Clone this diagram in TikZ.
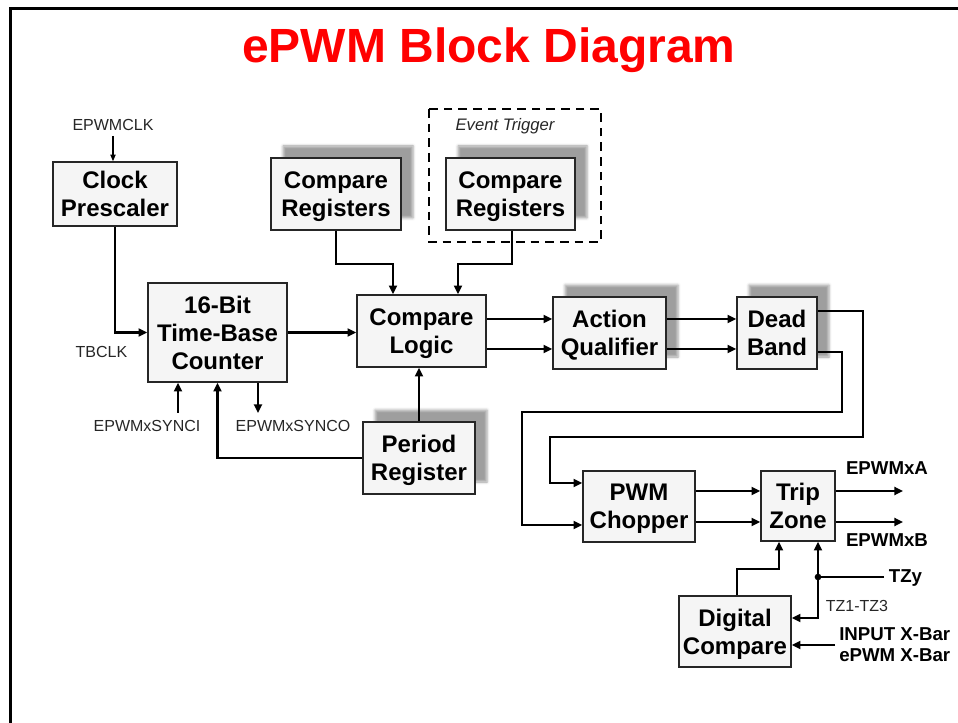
\documentclass[tikz,border=0pt]{standalone}
\usepackage{fontspec}
\setmainfont{Liberation Sans}
\usepackage{xcolor}
\usepackage{tikz}
\usetikzlibrary{calc, arrows.meta, shadows.blur}

\tikzset{
    blk/.style={draw=black!85, line width=1.2pt, fill=black!4, align=center, inner sep=0pt,
        text depth=0pt, font=\fontsize{18}{21}\selectfont\bfseries},
    shd/.style={blur shadow={shadow xshift=9pt, shadow yshift=9pt, shadow blur radius=2pt, shadow opacity=38}},
    wire/.style={line width=2.1pt},
    lbl/.style={font=\fontsize{12}{14}\selectfont, text=black!85, anchor=base},
    pin/.style={font=\fontsize{14}{16}\selectfont\bfseries, anchor=base},
}

\begin{document}
\begin{tikzpicture}[x=0.75pt, y=-0.75pt, >={Triangle[length=6.5pt, width=6pt]}]
    \useasboundingbox (0,0) rectangle (958,723);

    % 1. Khung va tieu de
    \draw[line width=2.25pt] (10,723) -- (10,9) -- (958,9);
    \node[text=red, font=\fontsize{36}{40}\selectfont\bfseries, anchor=base] (title) at (489,63) {ePWM Block Diagram};

    % 2. Cac khoi
    \node[blk, minimum width=93pt, minimum height=48pt] (clk) at (115,194) {Clock\\Prescaler};
    \node[blk, minimum width=104.25pt, minimum height=74.25pt] (tbc) at (217.5,332.5) {16-Bit\\Time-Base\\Counter};
    \node[blk, shd, minimum width=97.5pt, minimum height=54pt] (cmpa) at (336,194) {Compare\\Registers};
    \node[blk, shd, minimum width=96.75pt, minimum height=54pt] (cmpb) at (510.5,194) {Compare\\Registers};
    \node[blk, minimum width=96.75pt, minimum height=54pt] (cmpl) at (421.5,331) {Compare\\Logic};
    \node[blk, shd, minimum width=84pt, minimum height=54pt] (prd) at (419,458) {Period\\Register};
    \node[blk, shd, minimum width=84.75pt, minimum height=54pt] (aq) at (609.5,333) {Action\\Qualifier};
    \node[blk, shd, minimum width=60pt, minimum height=54pt] (db) at (777,333) {Dead\\Band};
    \node[blk, minimum width=84pt, minimum height=53.25pt] (pwmc) at (639,506.5) {PWM\\Chopper};
    \node[blk, minimum width=55.5pt, minimum height=52.5pt] (tz) at (798,506) {Trip\\Zone};
    \node[blk, minimum width=84pt, minimum height=53.25pt] (dc) at (735,631.5) {Digital\\Compare};

    % Event Trigger (net dut)
    \draw[line width=1.5pt, dash pattern=on 6.5pt off 4.5pt] (429,109) rectangle (601,242);
    \node[lbl, font=\fontsize{12.5}{14}\selectfont\itshape] (evt) at (505,131) {Event Trigger};

    % 3. Clock va time-base
    \node[lbl] (epwmclk) at (113,131) {EPWMCLK};
    \draw[->, line width=0.8pt, >={Triangle[length=5pt, width=4pt]}] (epwmclk.south) -- (epwmclk.south |- clk.north);
    \draw[wire, ->] (clk.south) |- (tbc.west);
    \node[lbl] (tbclk) at (101.5,358) {TBCLK};
    \draw[wire, ->] (tbc.east) -- (tbc.east -| cmpl.west);

    \node[lbl] (synci) at (147,432) {EPWMxSYNCI};
    \node[lbl] (synco) at (293,432) {EPWMxSYNCO};
    \coordinate (si) at (178,413);
    \coordinate (so) at (258,413);
    \draw[wire, ->] (si) -- (si |- tbc.south);
    \draw[wire, ->] (so |- tbc.south) -- (so);

    % Period register
    \draw[wire, ->] (prd.west) -| (tbc.south);
    \draw[wire, ->] (prd.north) -- (prd.north |- cmpl.south);

    % Compare registers -> compare logic
    \draw[wire, ->] (cmpa.south) |- (393,264) -- (393,0 |- cmpl.north);
    \draw[wire, ->] (512,0 |- cmpb.south) |- (458,264) -- (458,0 |- cmpl.north);

    % 4. Compare logic -> action qualifier -> dead band
    \foreach \y in {319,349} {
        \draw[wire, ->] (cmpl.east |- 0,\y) -- (aq.west |- 0,\y);
        \draw[wire, ->] (aq.east |- 0,\y) -- (db.west |- 0,\y);
    }

    % Dead band -> PWM chopper
    \draw[wire, ->] (db.east |- 0,311) -| (863,437) -| (550,483) -- (pwmc.west |- 0,483);
    \draw[wire, ->] (db.east |- 0,352) -| (842,412) -| (522,525) -- (pwmc.west |- 0,525);

    % 5. PWM chopper -> trip zone -> ngo ra
    \coordinate (oa) at (903,491);
    \coordinate (ob) at (903,522);
    \foreach \y in {491,522} {
        \draw[wire, ->] (pwmc.east |- 0,\y) -- (tz.west |- 0,\y);
    }
    \draw[wire, ->] (tz.east |- oa) -- (oa);
    \draw[wire, ->] (tz.east |- ob) -- (ob);
    \node[pin] (epwma) at (887,475) {EPWMxA};
    \node[pin] (epwmb) at (887,547) {EPWMxB};

    % 6. Digital compare va TZ
    \draw[wire, ->] (737,0 |- dc.north) |- (779,569) -- (779,0 |- tz.south);
    \coordinate (tzj) at (818,577);
    \coordinate (tzk) at (818,618);
    \node[pin] (tzy) at (905.5,583) {TZy};
    \draw[wire] (tzy.west |- tzj) -- (tzj);
    \fill (tzj) circle (2.5pt);
    \draw[wire, <->] (dc.east |- tzk) -| (tzk |- tz.south);
    \node[lbl] (tzn) at (857,612) {TZ1-TZ3};

    \node[pin, anchor=west, align=left, inner xsep=3pt] (xbar) at (835,645) {INPUT X-Bar\\ePWM X-Bar};
    \draw[wire, ->] (xbar.west) -- (dc.east |- xbar.west);

\end{tikzpicture}
\end{document}
